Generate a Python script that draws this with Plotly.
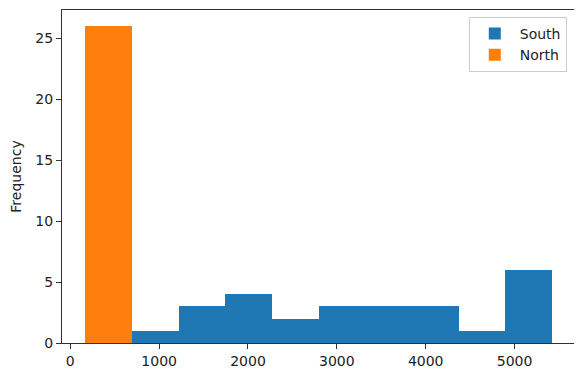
import plotly.graph_objects as go

bin_edges = [169, 694, 1219, 1744, 2269, 2794, 3319, 3844, 4369, 4894, 5419]
south_counts = [0, 1, 3, 4, 2, 3, 3, 3, 1, 6]
north_counts = [26, 0, 0, 0, 0, 0, 0, 0, 0, 0]
x_ticks = [0, 1000, 2000, 3000, 4000, 5000]
y_ticks = [0, 5, 10, 15, 20, 25]

centers = [(a + b) / 2 for a, b in zip(bin_edges[:-1], bin_edges[1:])]
widths = [b - a for a, b in zip(bin_edges[:-1], bin_edges[1:])]

fig = go.Figure()
fig.add_trace(go.Bar(x=centers, y=south_counts, width=widths, name="South",
                     marker=dict(color="#1f77b4", line=dict(width=0))))
fig.add_trace(go.Bar(x=centers, y=north_counts, width=widths, name="North",
                     marker=dict(color="#ff7f0e", line=dict(width=0))))

font = dict(family="DejaVu Sans", size=14, color="#222")
axis_common = dict(showline=True, linecolor="#333", linewidth=1, mirror=True,
                   ticks="outside", ticklen=5, tickcolor="#333", showgrid=False,
                   zeroline=False, tickfont=font, automargin=False)

fig.update_layout(
    width=574, height=368,
    margin=dict(l=54, r=7, t=2, b=33),
    plot_bgcolor="white", paper_bgcolor="white",
    barmode="overlay", bargap=0,
    showlegend=True,
    legend=dict(x=0.984, y=0.979, xanchor="right", yanchor="top",
                bordercolor="#cccccc", borderwidth=1, font=font, itemwidth=40,
                bgcolor="rgba(255,255,255,0.8)"),
    font=font,
)
fig.update_xaxes(range=[-93, 5680], tickvals=x_ticks, **axis_common)
fig.update_yaxes(range=[0, 27.3], tickvals=y_ticks,
                 title=dict(text="Frequency", font=font, standoff=10), **axis_common)

fig.write_html("out.html")
